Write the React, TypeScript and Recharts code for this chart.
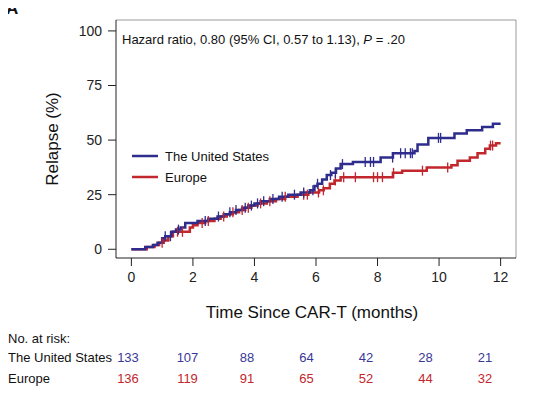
import React from "react";
import {
  ComposedChart,
  Line,
  XAxis,
  YAxis,
  ReferenceLine,
} from "recharts";

// cumulative incidence of relapse, step points (months, %)
const usTimes = [0, 0.45, 0.7, 0.85, 1.0, 1.1, 1.3, 1.45, 1.6, 1.75, 2.15, 2.5, 2.8, 3.0, 3.2, 3.4, 3.6, 3.8, 4.0, 4.2, 4.5, 4.8, 5.1, 5.5, 5.8, 5.95, 6.05, 6.2, 6.35, 6.5, 6.65, 6.8, 7.2, 8.1, 8.5, 9.2, 9.3, 9.65, 10.5, 10.9, 11.4, 11.75, 12.0];
const usValues = [0, 1, 2, 3, 5, 6, 8, 9, 10, 12, 13, 14, 15, 16, 17, 18, 19, 20, 21, 22, 23, 24, 25, 26, 27, 29, 30, 32, 34, 35, 37, 39, 40, 42, 44, 45, 48, 51, 53, 54.5, 56, 57.5, 57.5];
const usCensor = [1.1, 1.27, 1.53, 2.4, 2.83, 3.2, 3.4, 3.7, 3.9, 4.1, 4.3, 4.6, 4.9, 5.3, 5.6, 5.9, 6.05, 6.47, 6.63, 6.86, 7.6, 7.77, 7.87, 8.49, 8.75, 8.9, 9.07, 9.13, 9.98, 10.05];

const euTimes = [0, 0.5, 0.75, 0.9, 1.05, 1.2, 1.35, 1.9, 2.0, 2.15, 2.4, 2.7, 2.9, 3.1, 3.3, 3.5, 3.7, 3.9, 4.1, 4.4, 4.7, 5.0, 5.4, 5.75, 6.1, 6.25, 6.45, 6.6, 6.8, 8.5, 8.8, 9.6, 10.4, 10.6, 11.0, 11.25, 11.5, 11.65, 11.85, 12.0];
const euValues = [0, 1, 2, 3, 4, 6, 8, 10, 11, 12, 13, 14, 15, 16, 17, 18, 19, 20, 21, 22, 23, 24, 25, 26, 27, 28, 30, 31.5, 33, 35, 36, 37.5, 38.5, 40.5, 42, 44, 46, 47.5, 48.5, 48.5];
const euCensor = [1.0, 1.5, 1.66, 2.3, 2.5, 3.0, 3.3, 3.6, 3.8, 4.2, 4.5, 5.0, 5.6, 5.72, 6.08, 6.24, 6.63, 6.9, 7.28, 7.87, 8.0, 8.16, 8.52, 9.46, 10.28, 11.67, 11.74];

const xTicks = [0, 2, 4, 6, 8, 10, 12];
const yTicks = [0, 25, 50, 75, 100];

const atRiskUS = [133, 107, 88, 64, 42, 28, 21];
const atRiskEU = [136, 119, 91, 65, 52, 44, 32];

const US_COLOR = "#2e2c8c";
const EU_COLOR = "#c1272d";
const FONT = '"Liberation Sans", Arial, Helvetica, sans-serif';

function stepAt(times: number[], values: number[], t: number) {
  let v = values[0];
  for (let i = 0; i < times.length; i++) {
    if (times[i] <= t) v = values[i];
  }
  return v;
}

// merge event steps with censor marks (censor points keep the current value)
function buildSeries(times: number[], values: number[], censor: number[]) {
  const rows = times.map((t, i) => ({ t, v: values[i], c: false }));
  censor.forEach((t) => rows.push({ t, v: stepAt(times, values, t), c: true }));
  return rows.sort((a, b) => a.t - b.t || (a.c ? 1 : -1));
}

const usData = buildSeries(usTimes, usValues, usCensor);
const euData = buildSeries(euTimes, euValues, euCensor);

const censorDot = (color: string) => (props: any) => {
  const { cx, cy, payload, index } = props;
  if (!payload.c || cx == null) return <g key={index} />;
  return (
    <line key={index} x1={cx} x2={cx} y1={cy - 5} y2={cy + 5} stroke={color} strokeWidth={1.3} />
  );
};

export default function App() {
  return (
    <div style={{ position: "relative", width: 537, height: 399, margin: -8, background: "#fff", fontFamily: FONT }}>
      <ComposedChart width={537} height={399} margin={{ top: 20, right: 21, bottom: 81, left: 0 }}>
        <XAxis
          type="number"
          dataKey="t"
          domain={[-0.5, 12.5]}
          ticks={xTicks}
          allowDataOverflow
          height={60}
          tickSize={8}
          tickMargin={6}
          axisLine={{ stroke: "#222" }}
          tickLine={{ stroke: "#222" }}
          tick={{ fontSize: 14, fill: "#222", fontFamily: FONT }}
          label={{ value: "Time Since CAR-T (months)", position: "center", dy: 24, dx: -4, fontSize: 17, fill: "#111", fontFamily: FONT }}
        />
        <YAxis
          type="number"
          dataKey="v"
          domain={[-4, 105]}
          ticks={yTicks}
          allowDataOverflow
          width={116}
          tickSize={8}
          tickMargin={6}
          axisLine={{ stroke: "#222" }}
          tickLine={{ stroke: "#222" }}
          tick={{ fontSize: 14, fill: "#222", fontFamily: FONT }}
          label={{ value: "Relapse (%)", angle: -90, position: "center", dx: -6, fontSize: 17, fill: "#111", fontFamily: FONT }}
        />
        <ReferenceLine y={105} stroke="#999" strokeWidth={1} />
        <ReferenceLine x={12.5} stroke="#999" strokeWidth={1} />
        <Line
          data={euData}
          dataKey="v"
          type="stepAfter"
          stroke={EU_COLOR}
          strokeWidth={2.5}
          dot={censorDot(EU_COLOR)}
          activeDot={false}
          isAnimationActive={false}
        />
        <Line
          data={usData}
          dataKey="v"
          type="stepAfter"
          stroke={US_COLOR}
          strokeWidth={2.5}
          dot={censorDot(US_COLOR)}
          activeDot={false}
          isAnimationActive={false}
        />
      </ComposedChart>

      <svg width={537} height={399} style={{ position: "absolute", left: 0, top: 0, pointerEvents: "none" }} fontFamily={FONT}>
        <text x={6} y={14} fontSize={17} fontWeight="bold" fill="#111">A</text>
        <text x={122} y={44} fontSize={13} fill="#111">
          Hazard ratio, 0.80 (95% CI, 0.57 to 1.13), <tspan fontStyle="italic">P</tspan> = .20
        </text>

        <line x1={132} x2={158} y1={156} y2={156} stroke={US_COLOR} strokeWidth={2.5} />
        <text x={165} y={160.5} fontSize={13} fill="#111">The United States</text>
        <line x1={132} x2={158} y1={177} y2={177} stroke={EU_COLOR} strokeWidth={2.5} />
        <text x={165} y={181.5} fontSize={13} fill="#111">Europe</text>

        <text x={8} y={343} fontSize={13} fill="#111">No. at risk:</text>
        <text x={8} y={362} fontSize={13} fill="#111">The United States</text>
        <text x={8} y={383} fontSize={13} fill="#111">Europe</text>
        {atRiskUS.map((n, i) => (
          <text key={"us" + i} x={128 + i * 59.5} y={362} fontSize={13} fill="#3a3896" textAnchor="middle">{n}</text>
        ))}
        {atRiskEU.map((n, i) => (
          <text key={"eu" + i} x={128 + i * 59.5} y={383} fontSize={13} fill={EU_COLOR} textAnchor="middle">{n}</text>
        ))}
      </svg>
    </div>
  );
}
